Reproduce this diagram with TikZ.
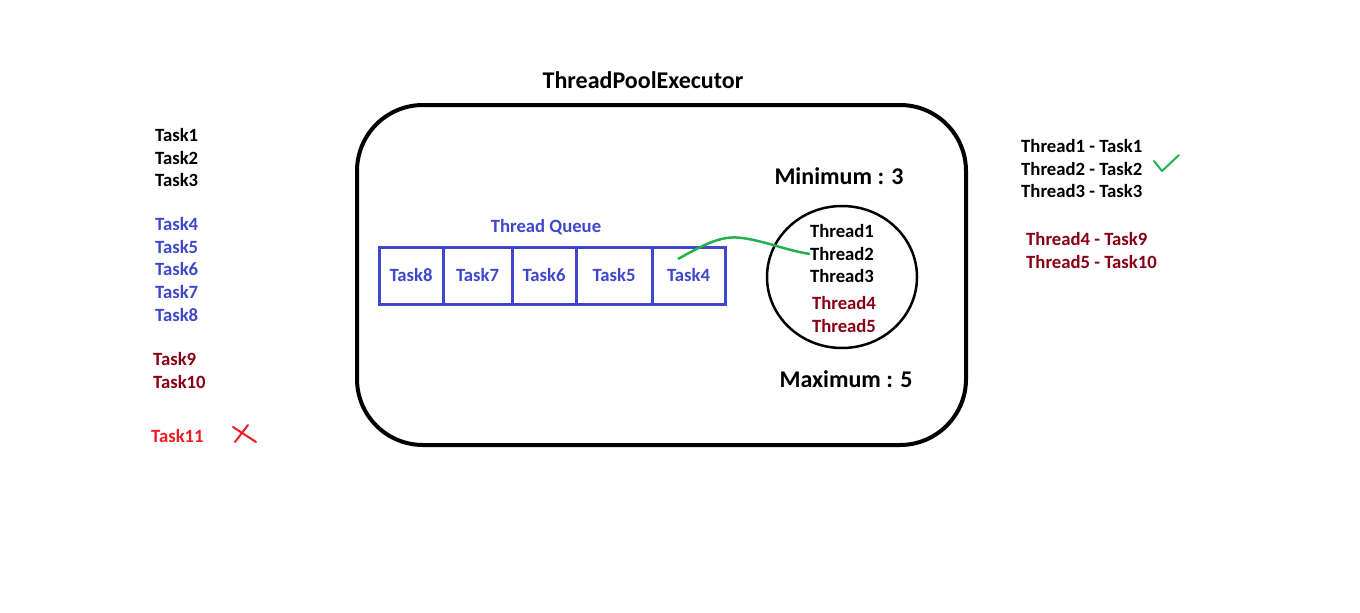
\documentclass[tikz,border=0pt]{standalone}
\usepackage{fontspec}
\setmainfont{Carlito}
\usetikzlibrary{shapes.geometric}
\definecolor{qblue}{HTML}{3F48CC}
\definecolor{busyred}{HTML}{880015}
\definecolor{failred}{HTML}{ED1C24}
\definecolor{okgreen}{HTML}{22B14C}

\begin{document}
\begin{tikzpicture}[
  x=1pt,y=-1pt,
  every node/.style={inner sep=0pt,font=\fontsize{18.7}{22}\selectfont\bfseries},
  bigText/.style={font=\fontsize{24}{28}\selectfont\bfseries},
  task/.style={anchor=west},
  waitTask/.style={anchor=west,text=qblue},
  extraTask/.style={anchor=west,text=busyred},
  rejectTask/.style={anchor=west,text=failred},
  poolBox/.style={draw,line width=4pt,rounded corners=66pt,minimum width=609pt,minimum height=340pt},
  queueCell/.style={draw=qblue,line width=3pt,minimum height=57pt,text=qblue},
  threadSet/.style={draw,ellipse,line width=2.5pt,minimum width=150pt,minimum height=142pt},
  pickLine/.style={okgreen,line width=2.5pt},
  markLine/.style={line width=2pt,line cap=round,line join=round}]

  \useasboundingbox (0,0) rectangle (1360,613);

  % incoming tasks
  \node[task] (task1) at (155,135) {Task1};
  \node[task] (task2) at (155,158) {Task2};
  \node[task] (task3) at (155,180) {Task3};
  \node[waitTask] (task4) at (155,224) {Task4};
  \node[waitTask] (task5) at (155,247) {Task5};
  \node[waitTask] (task6) at (155,269) {Task6};
  \node[waitTask] (task7) at (155,292) {Task7};
  \node[waitTask] (task8) at (155,315) {Task8};
  \node[extraTask] (task9) at (153,359) {Task9};
  \node[extraTask] (task10) at (153,382) {Task10};
  \node[rejectTask] (task11) at (151,436) {Task11};
  \coordinate (crossA) at (233,427);
  \coordinate (crossB) at (256,442);
  \coordinate (crossC) at (248,425);
  \coordinate (crossD) at (235,442);
  \draw[markLine,failred] (crossA) -- (crossB);
  \draw[markLine,failred] (crossC) -- (crossD);

  % the executor
  \node[bigText] (title) at (643,80) {ThreadPoolExecutor};
  \node[poolBox] (pool) at (661.5,275) {};
  \node[bigText] (minimum) at (839,176) {Minimum : 3};
  \node[bigText] (maximum) at (846,379) {Maximum : 5};

  % queue
  \node[text=qblue] (queueLabel) at (546,227) {Thread Queue};
  \node[queueCell,minimum width=64pt] (q8) at (411,275.5) {Task8};
  \node[queueCell,minimum width=69pt] (q7) at (477.5,275.5) {Task7};
  \node[queueCell,minimum width=64pt] (q6) at (544,275.5) {Task6};
  \node[queueCell,minimum width=76pt] (q5) at (614,275.5) {Task5};
  \node[queueCell,minimum width=73pt] (q4) at (688.5,275.5) {Task4};

  % threads
  \node[threadSet] (threads) at (842,277) {};
  \node (t1) at (842,231) {Thread1};
  \node (t2) at (842,254) {Thread2};
  \node (t3) at (842,276) {Thread3};
  \node[text=busyred] (t4) at (844,303) {Thread4};
  \node[text=busyred] (t5) at (844,326) {Thread5};

  % Task4 picked up by Thread2
  \coordinate (q4pick) at (678,259);
  \draw[pickLine] (q4pick) .. controls (705,244) and (722,235) .. (742,238)
    .. controls (765,241) and (785,250) .. (t2.west);

  % result
  \node[anchor=west] (r1) at (1021,146) {Thread1 - Task1};
  \node[anchor=west] (r2) at (1021,169) {Thread2 - Task2};
  \node[anchor=west] (r3) at (1021,191) {Thread3 - Task3};
  \node[anchor=west,text=busyred] (r4) at (1026,239) {Thread4 - Task9};
  \node[anchor=west,text=busyred] (r5) at (1026,262) {Thread5 - Task10};
  \coordinate (tickA) at (1154,161);
  \coordinate (tickB) at (1162,171);
  \coordinate (tickC) at (1179,155);
  \draw[markLine,okgreen] (tickA) -- (tickB) -- (tickC);
\end{tikzpicture}
\end{document}
